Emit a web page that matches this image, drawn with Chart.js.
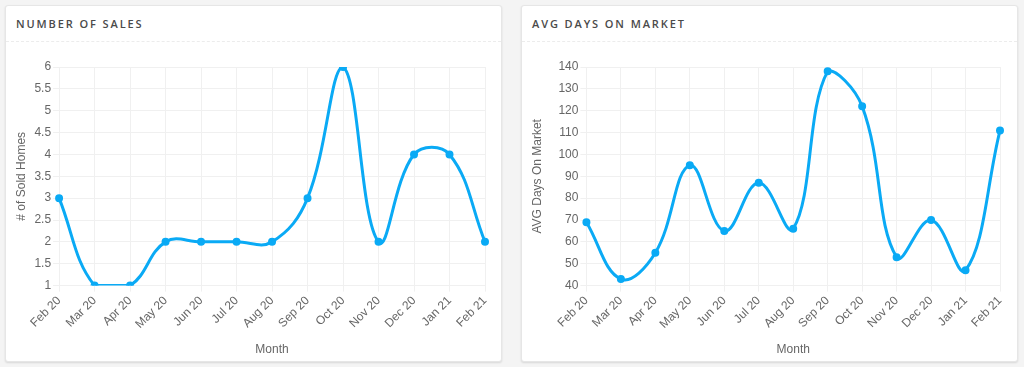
<!DOCTYPE html>
<html>
<head>
<meta charset="utf-8">
<script src="https://cdn.jsdelivr.net/npm/chart.js@4"></script>
<style>
  html, body { margin: 0; padding: 0; background: #f4f4f4; }
  body { width: 1024px; height: 367px; position: relative; overflow: hidden; }
  .card {
    position: absolute; top: 5px; width: 495px; height: 355px;
    background: #fff; border: 1px solid #e6e6e6; border-radius: 3px;
    box-shadow: 0 1px 2px rgba(0,0,0,0.12);
  }
  .card .head {
    height: 35px; border-bottom: 1px dashed #ececec;
    font-family: "Open Sans", sans-serif; font-size: 11px; font-weight: 600;
    letter-spacing: 1.9px; color: #4a4a4a; line-height: 36px; padding-left: 10px;
  }
  .card .body { position: absolute; left: 0; top: 36px; width: 495px; height: 319px; }
</style>
</head>
<body>
<div class="card" style="left:5px;">
  <div class="head">NUMBER OF SALES</div>
  <div class="body"><canvas id="sales"></canvas></div>
</div>
<div class="card" style="left:521px;">
  <div class="head">AVG DAYS ON MARKET</div>
  <div class="body"><canvas id="days"></canvas></div>
</div>
<script>
var months = ['Feb 20', 'Mar 20', 'Apr 20', 'May 20', 'Jun 20', 'Jul 20', 'Aug 20',
              'Sep 20', 'Oct 20', 'Nov 20', 'Dec 20', 'Jan 21', 'Feb 21'];
var soldHomes = [3, 1, 1, 2, 2, 2, 2, 3, 6, 2, 4, 4, 2];
var avgDays = [69, 43, 55, 95, 65, 87, 66, 138, 122, 53, 70, 47, 111];

var lineColor = '#0aaaf5';
var fontFamily = 'Helvetica, Arial, "Liberation Sans", sans-serif';

function makeConfig(values, yTitle, yMin, yMax, yStep, titleGap, rightPad) {
    return {
        type: 'line',
        data: {
            labels: months,
            datasets: [{
                data: values,
                borderColor: lineColor,
                backgroundColor: lineColor,
                borderWidth: 3,
                pointRadius: 2.5,
                pointHoverRadius: 4,
                tension: 0.4,
                fill: false
            }]
        },
        options: {
            responsive: true,
            maintainAspectRatio: false,
            animation: false,
            layout: { padding: { left: 4, right: rightPad, top: 25, bottom: 0 } },
            plugins: { legend: { display: false }, tooltip: { enabled: false } },
            scales: {
                x: {
                    grid: { color: '#f0f0f0', tickLength: 6 },
                    border: { color: '#f0f0f0' },
                    ticks: { color: '#666', font: { family: fontFamily, size: 12 },
                             maxRotation: 45, minRotation: 45, padding: 2 },
                    title: { display: true, text: 'Month', color: '#666',
                             font: { family: fontFamily, size: 12 }, padding: { top: 9, bottom: 4 } }
                },
                y: {
                    min: yMin, max: yMax,
                    grid: { color: '#f0f0f0', tickLength: 6 },
                    border: { color: '#f0f0f0' },
                    ticks: {
                        stepSize: yStep, color: '#666', font: { family: fontFamily, size: 12 }, padding: 2,
                        callback: function (value) { return String(Math.round(value * 10) / 10); }
                    },
                    title: { display: true, text: yTitle, color: '#666',
                             font: { family: fontFamily, size: 12 }, padding: { top: 4, bottom: titleGap } }
                }
            }
        }
    };
}

new Chart(document.getElementById('sales'), makeConfig(soldHomes, '# of Sold Homes', 1, 6, 0.5, 4, 16));
new Chart(document.getElementById('days'), makeConfig(avgDays, 'AVG Days On Market', 40, 140, 10, 12, 17));
</script>
</body>
</html>
